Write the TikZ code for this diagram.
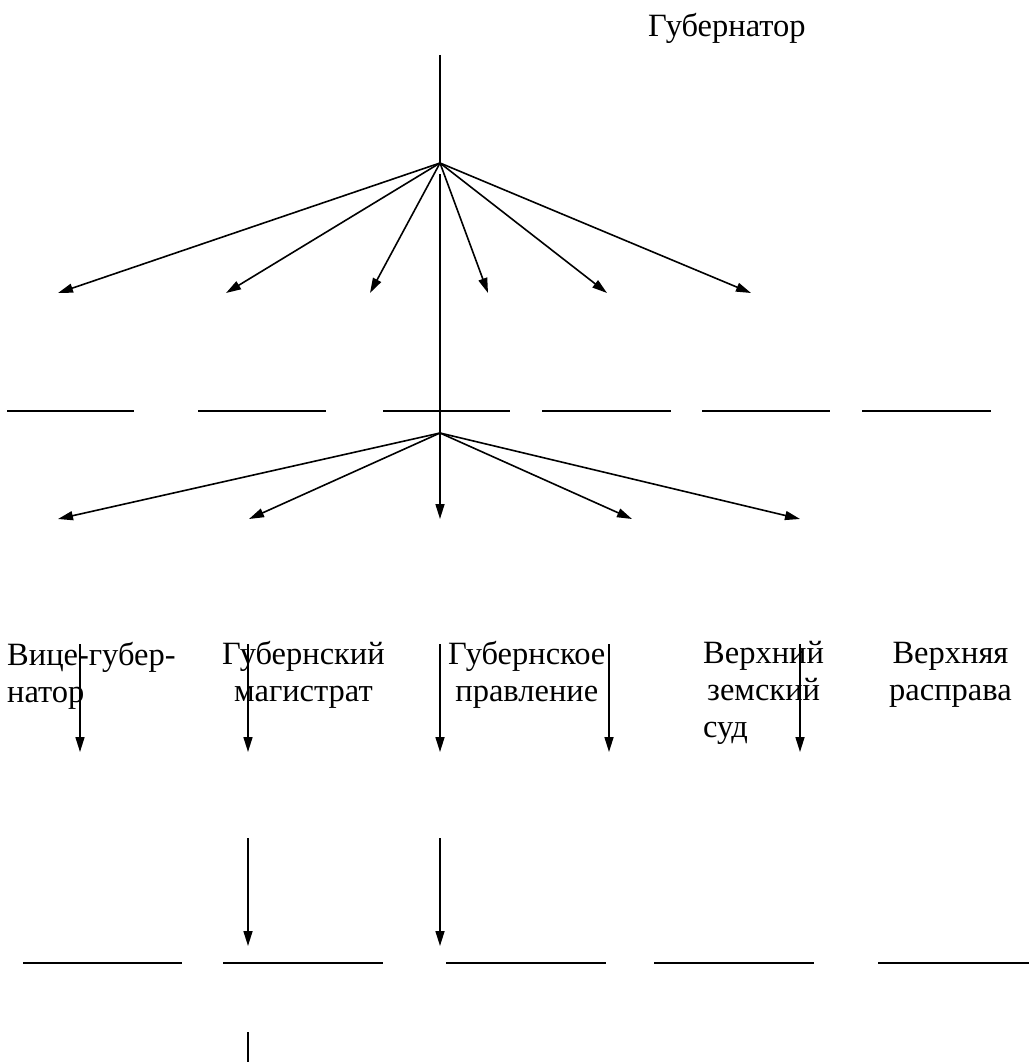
\documentclass[tikz,border=0pt]{standalone}
\usepackage{fontspec}
\setmainfont{Liberation Serif}
\usetikzlibrary{arrows.meta}
\begin{document}
\begin{tikzpicture}[x=1pt,y=-1pt,
  conn/.style={line width=1.6pt},
  arr/.style={line width=1.6pt,-{Triangle[length=15pt,width=9pt]}},
  blank/.style={line width=1.5pt},
  lbl/.style={inner sep=0pt,anchor=north west,font=\fontsize{32.5}{37}\selectfont}]
\useasboundingbox (0,0) rectangle (1029,1062);
% title
\node[inner sep=0pt,anchor=base west,font=\fontsize{32.5}{37}\selectfont] (gov) at (648,37) {Губернатор};
% hubs
\coordinate (top) at (440,55);
\coordinate (hubA) at (440,163);
\coordinate (hubAb) at (440,174);
\coordinate (hubB) at (440,433);
\draw[conn] (top) -- (hubA);
\draw[conn] (hubAb) -- (hubB);
% first fan
\foreach \i/\x in {1/58,2/226,3/370,4/488,5/607,6/751}{
  \coordinate (fa\i) at (\x,293);
  \draw[arr] (hubA) -- (fa\i);
}
% first row of blanks
\foreach \i/\a/\b in {1/7/134,2/198/326,3/383/510,4/542/671,5/702/830,6/862/991}{
  \coordinate (ba\i) at (\a,411); \coordinate (bb\i) at (\b,411);
  \draw[blank] (ba\i) -- (bb\i);
}
% second fan
\foreach \i/\x in {1/58,2/249,3/440,4/632,5/800}{
  \coordinate (fb\i) at (\x,519);
  \draw[arr] (hubB) -- (fb\i);
}
% labels
\node[lbl,align=left] (l1) at (7,642) {Вице-губер-\\натор};
\node[lbl,align=center] (l2) at (222,641) {Губернский\\магистрат};
\node[lbl,align=center] (l3) at (448,641) {Губернское\\правление};
\node[lbl,align=left] (l4) at (703,641) {Верхний\\\hspace{4pt}земский\\суд};
\node[lbl,align=center] (l5) at (889,642) {Верхняя\\расправа};
% vertical arrows from labels
\foreach \i/\x in {1/80,2/248,3/440,4/609,5/800}{
  \coordinate (va\i) at (\x,644); \coordinate (vb\i) at (\x,752);
  \draw[arr] (va\i) -- (vb\i);
}
% lower arrows
\foreach \i/\x in {1/248,2/440}{
  \coordinate (wa\i) at (\x,838); \coordinate (wb\i) at (\x,946);
  \draw[arr] (wa\i) -- (wb\i);
}
% bottom blanks
\foreach \i/\a/\b in {1/23/182,2/223/383,3/446/606,4/654/814,5/878/1029}{
  \coordinate (ca\i) at (\a,963); \coordinate (cb\i) at (\b,963);
  \draw[blank] (ca\i) -- (cb\i);
}
% bottom stub
\coordinate (sa) at (248,1032); \coordinate (sb) at (248,1062);
\draw[conn] (sa) -- (sb);
\end{tikzpicture}
\end{document}
